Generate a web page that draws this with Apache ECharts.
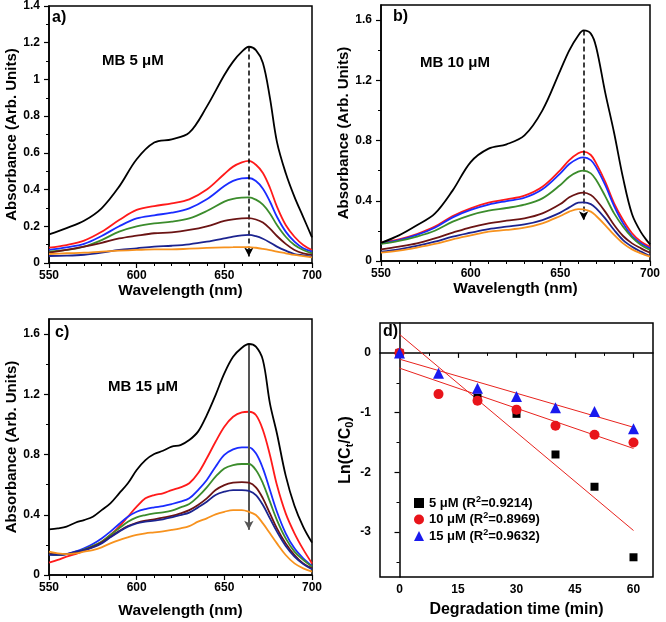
<!DOCTYPE html>
<html>
<head>
<meta charset="utf-8">
<script src="https://cdn.jsdelivr.net/npm/echarts@6/dist/echarts.min.js"></script>
<style>html,body{margin:0;padding:0;background:#fff}#c{width:666px;height:622px}</style>
</head>
<body>
<div id="c"></div>
<script>
// ---------- DATA ----------
const wlA = [550,560,570,580,590,600,610,620,630,640,650,655,660,664,668,672,676,680,685,690,695,700];
const aBlack  = [0.156,0.19,0.23,0.298,0.416,0.565,0.656,0.674,0.71,0.852,1.024,1.097,1.151,1.178,1.16,1.09,0.9,0.66,0.49,0.36,0.25,0.14];
const aRed    = [0.084,0.098,0.122,0.17,0.234,0.289,0.31,0.325,0.347,0.40,0.485,0.525,0.548,0.556,0.535,0.49,0.41,0.307,0.207,0.143,0.098,0.07];
const aBlue   = [0.071,0.085,0.104,0.147,0.20,0.243,0.26,0.274,0.298,0.347,0.419,0.447,0.461,0.463,0.447,0.405,0.335,0.252,0.171,0.116,0.08,0.062];
const aGreen  = [0.062,0.071,0.089,0.125,0.171,0.20,0.216,0.225,0.243,0.283,0.334,0.349,0.356,0.358,0.345,0.318,0.27,0.207,0.143,0.098,0.071,0.053];
const aMaroon = [0.056,0.071,0.089,0.11,0.134,0.149,0.162,0.167,0.18,0.20,0.229,0.238,0.243,0.245,0.237,0.22,0.187,0.147,0.104,0.071,0.053,0.044];
const aNavy   = [0.038,0.04,0.045,0.056,0.071,0.08,0.089,0.094,0.102,0.116,0.134,0.144,0.151,0.153,0.146,0.132,0.112,0.089,0.067,0.049,0.042,0.035];
const aOrange = [0.049,0.053,0.056,0.062,0.067,0.071,0.074,0.074,0.078,0.082,0.085,0.086,0.087,0.087,0.083,0.077,0.07,0.062,0.053,0.044,0.038,0.031];

const wlB = [550,560,570,580,590,600,610,620,630,640,650,655,660,663,667,670,675,680,685,690,695,700];
const bBlack  = [0.12,0.17,0.237,0.314,0.469,0.657,0.746,0.775,0.834,1.0,1.266,1.399,1.498,1.531,1.51,1.42,1.12,0.85,0.55,0.31,0.19,0.11];
const bRed    = [0.122,0.144,0.179,0.228,0.299,0.35,0.387,0.409,0.434,0.493,0.604,0.67,0.715,0.726,0.704,0.648,0.527,0.383,0.272,0.184,0.128,0.095];
const bBlue   = [0.117,0.139,0.173,0.221,0.29,0.339,0.374,0.398,0.42,0.476,0.582,0.644,0.681,0.688,0.67,0.622,0.505,0.365,0.25,0.166,0.117,0.084];
const bGreen  = [0.113,0.133,0.162,0.201,0.261,0.305,0.334,0.352,0.374,0.416,0.505,0.56,0.593,0.60,0.582,0.538,0.431,0.316,0.228,0.157,0.106,0.073];
const bMaroon = [0.077,0.095,0.117,0.15,0.188,0.224,0.25,0.268,0.283,0.316,0.378,0.423,0.449,0.454,0.438,0.405,0.328,0.239,0.166,0.117,0.084,0.055];
const bNavy   = [0.062,0.077,0.10,0.128,0.162,0.188,0.212,0.228,0.243,0.272,0.321,0.356,0.387,0.389,0.378,0.35,0.283,0.206,0.139,0.095,0.062,0.033];
const bOrange = [0.055,0.069,0.089,0.113,0.144,0.17,0.195,0.206,0.221,0.25,0.299,0.328,0.345,0.343,0.328,0.299,0.239,0.173,0.117,0.077,0.051,0.029];

const wlC = [550,555,560,565,570,575,580,585,590,595,600,605,610,615,620,625,630,635,640,645,650,655,660,664,668,672,676,680,685,690,695,700];
const cBlack  = [0.303,0.31,0.321,0.347,0.365,0.387,0.431,0.476,0.542,0.609,0.697,0.763,0.803,0.825,0.852,0.863,0.896,0.952,1.062,1.195,1.339,1.449,1.509,1.534,1.516,1.427,1.14,0.94,0.66,0.46,0.32,0.215];
const cRed    = [0.082,0.10,0.122,0.139,0.162,0.188,0.221,0.266,0.321,0.387,0.454,0.509,0.531,0.542,0.564,0.582,0.609,0.675,0.775,0.885,0.985,1.051,1.08,1.084,1.062,0.963,0.797,0.597,0.409,0.277,0.17,0.077];
const cBlue   = [0.139,0.133,0.139,0.155,0.177,0.206,0.243,0.288,0.339,0.387,0.42,0.438,0.449,0.458,0.471,0.487,0.509,0.564,0.631,0.719,0.797,0.834,0.848,0.848,0.808,0.708,0.564,0.42,0.277,0.177,0.111,0.06];
const cGreen  = [0.139,0.133,0.139,0.148,0.17,0.193,0.221,0.266,0.31,0.354,0.383,0.398,0.409,0.416,0.427,0.449,0.471,0.52,0.582,0.653,0.708,0.73,0.737,0.737,0.697,0.609,0.487,0.365,0.243,0.155,0.10,0.055];
const cMaroon = [0.139,0.139,0.139,0.148,0.166,0.188,0.215,0.254,0.292,0.325,0.347,0.361,0.37,0.381,0.392,0.409,0.431,0.465,0.509,0.564,0.597,0.613,0.617,0.613,0.582,0.509,0.409,0.31,0.21,0.133,0.077,0.044];
const cNavy   = [0.133,0.133,0.139,0.155,0.166,0.184,0.21,0.25,0.288,0.321,0.343,0.354,0.361,0.37,0.383,0.398,0.414,0.449,0.487,0.531,0.553,0.564,0.564,0.558,0.531,0.465,0.376,0.288,0.193,0.122,0.073,0.038];
const cOrange = [0.155,0.144,0.139,0.144,0.155,0.166,0.184,0.21,0.232,0.25,0.266,0.277,0.283,0.29,0.299,0.31,0.325,0.354,0.376,0.403,0.42,0.431,0.431,0.42,0.398,0.343,0.277,0.21,0.133,0.077,0.044,0.022];

// arrows (wavelength, top absorbance, bottom absorbance) for panels a,b,c
const arrowX = [664, 663, 664];
const arrowTop = [1.18, 1.53, 1.53];
const arrowBottom = [0.035, 0.27, 0.3];

// panel d
const times = [0,10,20,30,40,50,60];
const d5  = [0,null,-0.75,-1.02,-1.70,-2.24,-3.42];
const d10 = [0,-0.69,-0.80,-0.95,-1.22,-1.37,-1.50];
const d15 = [0,-0.34,-0.59,-0.73,-0.92,-0.98,-1.27];
const concNames = ['5 \u03bcM','10 \u03bcM','15 \u03bcM'];
const r2Values = ['0.9214','0.8969','0.9632'];
const fitIntercept = [0.31,-0.255,-0.105];
const fitSlope = [-0.0547,-0.0224,-0.019];
const fitRange = [0,60];

const panelLetters = ['a)','b)','c)','d)'];
const panelTitles = ['MB 5 \u03bcM','MB 10 \u03bcM','MB 15 \u03bcM'];

const yTicksBC = [0,0.4,0.8,1.2,1.6];
const yMinorBC = [0.2,0.6,1.0,1.4];
const xTicksD = [0,15,30,45,60];
const xMinorD = [7.5,22.5,37.5,52.5];
const yTicksD = [0,-1,-2,-3];
const yMinorD = [-0.5,-1.5,-2.5,-3.5];

// ---------- STYLE ----------
const FONT = '"Liberation Sans", Arial, Helvetica, sans-serif';
const colors = ['#000000','#ff1a1a','#1a2cff','#3b8c2c','#6b1414','#1c2490','#f7921e'];
const lineAxis = {show:true, lineStyle:{color:'#000', width:1.5}};
const tickLbl = (m) => ({color:'#000', fontSize:12, fontWeight:'bold', fontFamily:FONT, margin:m});
const nameStyle = (s) => ({color:'#000', fontSize:s, fontWeight:'bold', fontFamily:FONT});
const majorTick = {show:true, inside:false, length:5, lineStyle:{color:'#000', width:1.2}};
const minorTickCfg = (n) => ({show:true, splitNumber:n, length:3, lineStyle:{color:'#000', width:1}});

const grids = [
  {left:49, top:6, width:263, height:257},
  {left:381, top:5, width:269, height:256},
  {left:49, top:319, width:263, height:256},
  {left:380, top:323, width:273, height:254}
].map(g => Object.assign(g, {show:true, borderColor:'#000', borderWidth:1.5, backgroundColor:'transparent', outerBoundsMode:'none', containLabel:false}));

function wlAxis(gi, gap) {
  return {gridIndex:gi, type:'value', min:550, max:700, interval:50,
    axisLine:lineAxis, axisTick:majorTick, minorTick:minorTickCfg(5),
    splitLine:{show:false}, minorSplitLine:{show:false}, axisLabel:tickLbl(7),
    name:'Wavelength (nm)', nameLocation:'middle', nameGap:gap, nameTextStyle:nameStyle(15.5)};
}
function minorAxis(gi, min, max, vals, pos) {
  return {gridIndex:gi, type:'value', min:min, max:max, position:pos,
    axisLine:{show:false}, axisLabel:{show:false}, splitLine:{show:false},
    axisTick:{show:true, inside:false, length:3, customValues:vals, lineStyle:{color:'#000', width:1}}};
}
function absAxis(gi, max, gap, custom) {
  const ax = {gridIndex:gi, type:'value', min:0, max:max, position:'left',
    axisLine:lineAxis, splitLine:{show:false}, minorSplitLine:{show:false},
    axisLabel:tickLbl(9),
    name:'Absorbance (Arb. Units)', nameLocation:'middle', nameGap:gap, nameTextStyle:nameStyle(15)};
  if (custom) {
    ax.axisLabel.customValues = yTicksBC;
    ax.axisTick = Object.assign({}, majorTick, {customValues:yTicksBC});
  } else {
    ax.interval = 0.2;
    ax.axisTick = majorTick;
    ax.minorTick = minorTickCfg(2);
  }
  return ax;
}

const xAxis = [
  wlAxis(0, 20), wlAxis(1, 19), wlAxis(2, 28),
  {gridIndex:3, type:'value', min:-5, max:65, axisLine:lineAxis,
   axisTick:Object.assign({}, majorTick, {customValues:xTicksD}),
   axisLabel:Object.assign(tickLbl(7), {customValues:xTicksD}),
   splitLine:{show:false},
   name:'Degradation time (min)', nameLocation:'middle', nameGap:25, nameTextStyle:nameStyle(16)},
  minorAxis(3, -5, 65, xMinorD, 'bottom')
];
const yAxis = [
  absAxis(0, 1.4, 30, false),
  absAxis(1, 1.7, 25, true), minorAxis(1, 0, 1.7, yMinorBC, 'left'),
  absAxis(2, 1.7, 30, true), minorAxis(2, 0, 1.7, yMinorBC, 'left'),
  {gridIndex:3, type:'value', min:-3.75, max:0.5, position:'left', axisLine:lineAxis,
   axisTick:Object.assign({}, majorTick, {customValues:yTicksD}),
   axisLabel:Object.assign(tickLbl(9), {customValues:yTicksD}),
   splitLine:{show:false},
   name:'Ln(C{s|t}/C{s|0})', nameLocation:'middle', nameGap:25,
   nameTextStyle:Object.assign(nameStyle(16), {rich:{s:{fontSize:11, fontWeight:'bold', fontFamily:FONT, color:'#000', padding:[8,0,0,0]}}})},
  minorAxis(3, -3.75, 0.5, yMinorD, 'left')
];

const series = [];
function addPanel(wl, sets, xi, yi, p, dashed) {
  sets.forEach((vals, k) => {
    const s = {type:'line', xAxisIndex:xi, yAxisIndex:yi, showSymbol:false, smooth:0.35,
      data: wl.map((w, i) => [w, vals[i]]),
      lineStyle:{color:colors[k], width:1.8}, itemStyle:{color:colors[k]}, z:2 + k, silent:true};
    if (k === 0) {
      s.markLine = {silent:true, symbol:['none','arrow'], symbolSize:[7,9], label:{show:false},
        lineStyle:{color: dashed ? '#000' : '#555', type: dashed ? [5,3] : 'solid', width: dashed ? 1.5 : 2},
        data:[[{coord:[arrowX[p], arrowTop[p]]}, {coord:[arrowX[p], arrowBottom[p]]}]]};
      s.z = 10;
    }
    series.push(s);
  });
}
addPanel(wlA, [aBlack,aRed,aBlue,aGreen,aMaroon,aNavy,aOrange], 0, 0, 0, true);
addPanel(wlB, [bBlack,bRed,bBlue,bGreen,bMaroon,bNavy,bOrange], 1, 1, 1, true);
addPanel(wlC, [cBlack,cRed,cBlue,cGreen,cMaroon,cNavy,cOrange], 2, 3, 2, false);

// fits
fitIntercept.forEach((a, k) => {
  series.push({type:'line', name:'fit' + k, xAxisIndex:3, yAxisIndex:5, showSymbol:false, silent:true,
    data: fitRange.map(t => [t, a + fitSlope[k] * t]),
    lineStyle:{color:'#e8231e', width:1}, z:3});
});
const dSets = [d5, d10, d15];
const dColors = ['#000000','#e8141a','#1a1aee'];
const dSymbols = ['rect','circle','triangle'];
const dSizes = [8, 10, 11];
dSets.forEach((vals, k) => {
  series.push({type:'scatter', name:concNames[k], xAxisIndex:3, yAxisIndex:5,
    symbol:dSymbols[k], symbolSize:dSizes[k], itemStyle:{color:dColors[k], opacity:1},
    data: times.map((t, i) => [t, vals[i]]).filter(p => p[1] !== null), z:5 + k});
});

const graphic = [];
const letterPos = [[52,18],[393,17],[55,333],[383,332]];
panelLetters.forEach((t, i) => graphic.push({type:'text', x:letterPos[i][0], y:letterPos[i][1],
  style:{text:t, fontSize:16, fontWeight:'bold', fontFamily:FONT, fill:'#000', verticalAlign:'middle'}}));
const titlePos = [[102,61],[420,63],[108,387]];
panelTitles.forEach((t, i) => graphic.push({type:'text', x:titlePos[i][0], y:titlePos[i][1],
  style:{text:t, fontSize:15, fontWeight:'bold', fontFamily:FONT, fill:'#000', verticalAlign:'middle'}}));

const option = {
  animation:false, backgroundColor:'#fff',
  textStyle:{fontFamily:FONT},
  grid:grids, xAxis:xAxis, yAxis:yAxis, series:series, graphic:graphic,
  legend:{orient:'vertical', left:409, top:490, itemWidth:10, itemHeight:10, itemGap:2,
    data: concNames.map((n, k) => ({name:n, icon:dSymbols[k]})),
    formatter: (name) => { const k = concNames.indexOf(name); return '{b|' + name + ' (R}{sup|2}{b|=' + r2Values[k] + ')}'; },
    textStyle:{color:'#000', fontSize:13, fontWeight:'bold', fontFamily:FONT,
      rich:{b:{fontSize:13, fontWeight:'bold', fontFamily:FONT, color:'#000', lineHeight:14},
            sup:{fontSize:9, fontWeight:'bold', fontFamily:FONT, color:'#000', padding:[0,0,7,0]}}}}
};
const chart = echarts.init(document.getElementById('c'), null, {renderer:'canvas'});
chart.setOption(option);
</script>
</body>
</html>
